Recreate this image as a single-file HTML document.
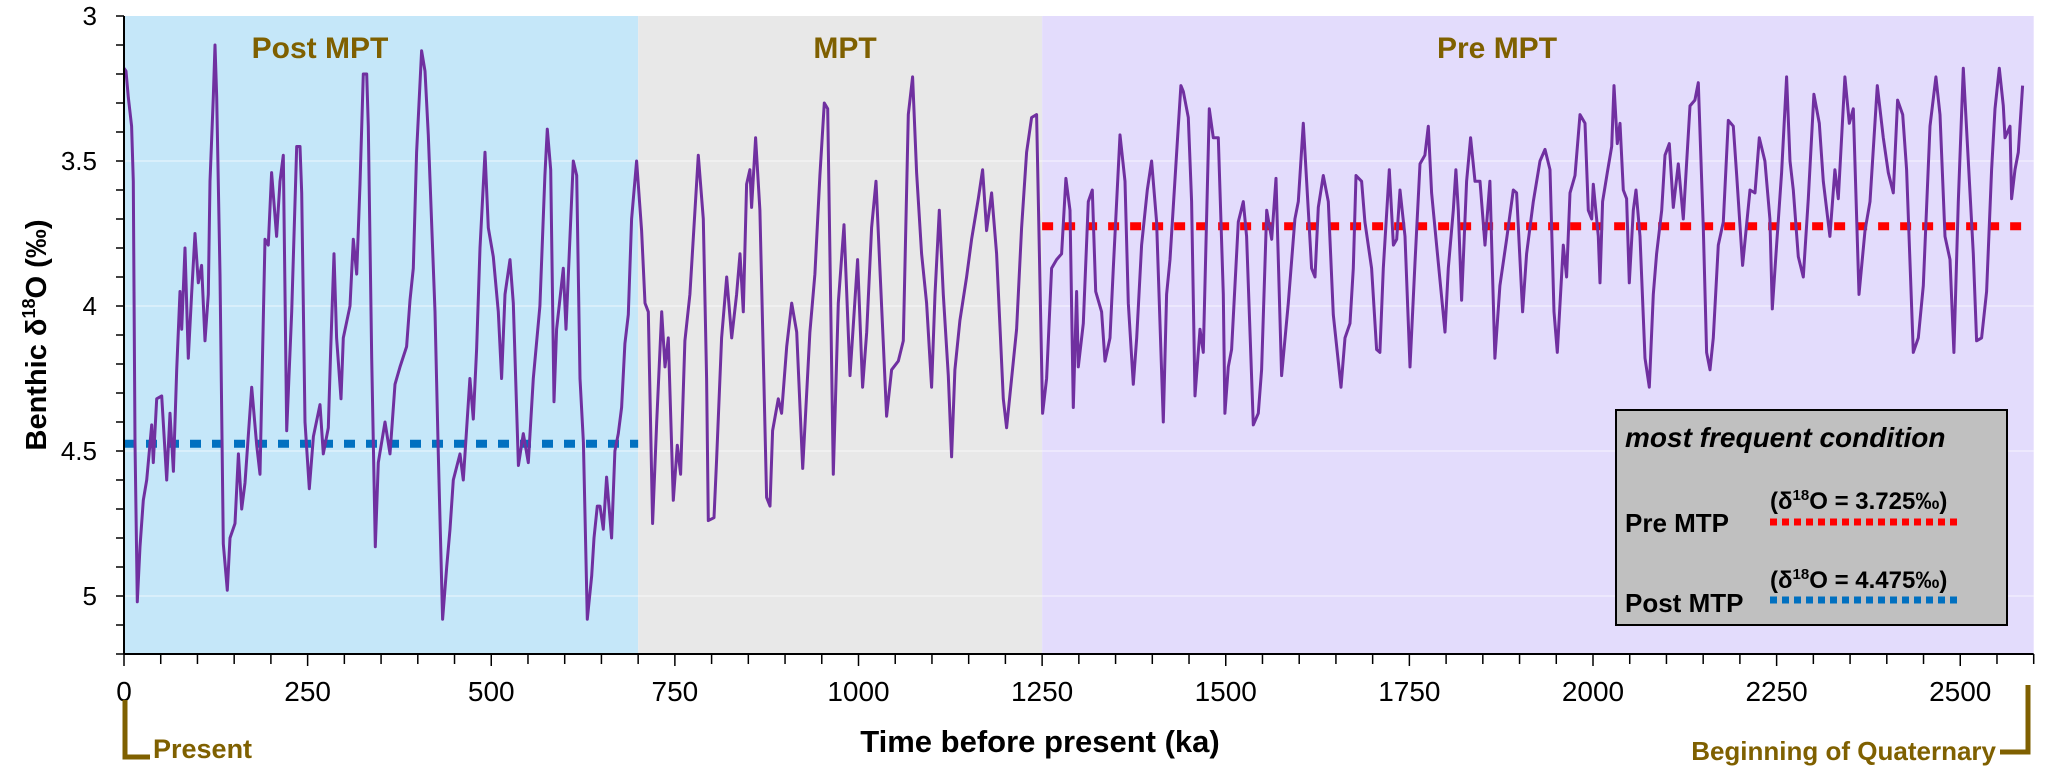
<!DOCTYPE html>
<html><head><meta charset="utf-8">
<style>
html,body{margin:0;padding:0;background:#fff;}
svg{display:block;}
text{font-family:"Liberation Sans",sans-serif;}
.nar{font-family:"Liberation Sans",sans-serif;}
</style></head>
<body>
<svg id="chart" width="2050" height="775" viewBox="0 0 2050 775" xmlns="http://www.w3.org/2000/svg">
  <g id="bg"></g>
  <g id="grid"></g>
  <g id="refs"></g>
  <path id="series" fill="none" stroke="#7030a0" stroke-width="3" stroke-linejoin="round"/>
  <g id="axes"></g>
  <g id="labels"></g>

  <text transform="translate(46,335) rotate(-90)" text-anchor="middle" font-size="29" font-weight="bold">Benthic δ<tspan font-size="18" dy="-11">18</tspan><tspan dy="11">O (‰)</tspan></text>
  <text class="nar" x="1040" y="752" text-anchor="middle" font-size="31" font-weight="bold">Time before present (ka)</text>

  <g>
    <path d="M125 700 L125 757 L150 757" fill="none" stroke="#7f6000" stroke-width="5"/>
    <text class="nar" x="153" y="758" font-size="27" font-weight="bold" fill="#7f6000">Present</text>
  </g>
  <g>
    <path d="M2028 685 L2028 752 L2000 752" fill="none" stroke="#7f6000" stroke-width="5"/>
    <text class="nar" x="1996" y="760" text-anchor="end" font-size="26" font-weight="bold" fill="#7f6000">Beginning of Quaternary</text>
  </g>

  <g>
    <rect x="1616" y="410" width="391" height="215" fill="#c0c0c0" stroke="#000" stroke-width="2"/>
    <text x="1625" y="447" font-size="28" font-weight="bold" font-style="italic">most frequent condition</text>
    <text class="nar" x="1625" y="532" font-size="26" font-weight="bold">Pre MTP</text>
    <text class="nar" x="1770" y="509" font-size="24" font-weight="bold">(δ<tspan font-size="15" dy="-9">18</tspan><tspan dy="9">O = 3.725‰)</tspan></text>
    <line x1="1770" y1="522" x2="1962" y2="522" stroke="#ff0000" stroke-width="7" stroke-dasharray="7 5"/>
    <text class="nar" x="1625" y="612" font-size="26" font-weight="bold">Post MTP</text>
    <text class="nar" x="1770" y="588" font-size="24" font-weight="bold">(δ<tspan font-size="15" dy="-9">18</tspan><tspan dy="9">O = 4.475‰)</tspan></text>
    <line x1="1770" y1="600" x2="1962" y2="600" stroke="#0070c0" stroke-width="7" stroke-dasharray="7 5"/>
  </g>
</svg>
<script>
const times = [0,2.7,5.9,10.4,12.7,15.0,18.1,21.8,26.3,30.9,37.7,39.9,44.5,51.3,58.1,62.6,67.2,71.7,76.2,78.5,83.0,87.6,92.1,96.7,101.2,105.7,110.3,114.8,117.1,121.6,123.9,126.2,130.7,135.2,140.7,144.3,151.1,155.7,160.2,164.7,173.8,180.6,185.1,191.9,196.5,201.0,207.8,212.4,216.9,221.5,228.3,235.1,239.6,241.9,246.4,252.3,257.8,266.8,271.4,278.2,281.4,285.9,289.5,295.4,298.6,307.7,312.2,316.8,321.3,325.8,330.4,332.6,337.2,342.2,346.2,355.3,362.1,368.9,375.7,384.8,389.4,393.9,398.4,405.2,409.8,414.3,423.4,427.9,433.8,439.3,443.8,448.4,457.4,462.0,471.0,475.6,480.1,484.7,491.5,496.0,502.8,509.6,514.1,518.7,525.5,530.0,536.9,543.6,550.5,557.3,566.3,573.1,576.3,580.9,585.4,589.0,598.1,601.8,607.2,611.7,616.3,620.8,625.4,630.8,636.7,639.9,644.4,648.0,
652.6,657.1,663.9,668.4,673.0,677.5,682.0,686.6,691.1,697.9,704.7,709.3,713.8,719.7,725.2,732.0,736.5,741.0,747.9,753.3,757.8,763.7,770.5,781.9,788.7,793.2,795.5,803.2,806.8,813.6,820.5,827.3,834.1,838.6,843.1,847.7,852.2,854.5,859.9,865.8,874.9,879.5,883.1,890.8,895.3,902.2,909.0,915.8,924.0,933.9,940.7,947.5,953.4,958.0,965.7,972.5,980.2,988.4,998.8,1005.6,1011.1,1017.9,1023.8,1029.2,1038.3,1045.1,1054.2,1061.0,1067.8,1073.7,1079.1,1085.9,1092.7,1099.5,1104.1,1110.0,1115.4,1122.2,1126.8,1131.3,1138.1,1147.2,1154.0,1163.1,1169.0,1174.4,1181.2,1188.0,1197.1,1201.7,1208.4,1215.3,1222.1,1228.9,1235.7,1242.5,1250.7,1256.1,1262.9,1269.7,1276.5,1282.4,1287.9,
1292.5,1297.0,1299.3,1306.1,1312.9,1318.3,1322.9,1331.0,1335.6,1342.4,1346.9,1356.0,1362.8,1367.3,1374.1,1378.7,1385.5,1393.2,1399.1,1405.9,1415.0,1419.5,1424.1,1435.4,1439.0,1442.2,1449.0,1453.5,1458.1,1464.9,1469.4,1477.6,1483.0,1489.9,1496.7,1498.9,1503.5,1508.0,1517.1,1523.9,1528.4,1537.5,1544.3,1548.8,1555.7,1562.5,1568.4,1576.1,1585.2,1594.2,1598.8,1605.6,1612.4,1616.9,1621.5,1626.0,1632.8,1639.6,1646.4,1656.9,1662.3,1669.1,1673.6,1677.3,1685.0,1689.5,1698.6,1705.4,1709.9,1714.5,1722.7,1728.2,1732.7,1737.2,1744.0,1750.8,1757.6,1764.4,1771.2,1775.8,1780.3,1787.1,1798.5,1803.0,1809.8,1813.4,1816.6,1821.1,1827.9,1833.4,1839.3,1846.1,1852.9,1859.7,1866.5,1873.3,1882.4,1891.5,1896.0,1904.2,1909.6,1918.7,1927.8,
1934.6,1941.4,1946.9,1951.4,1959.6,1964.1,1968.7,1975.5,1982.3,1989.1,1993.6,1998.2,2000.4,2007.2,2009.5,2013.1,2019.5,2025.4,2028.6,2033.1,2036.7,2041.3,2045.8,2049.4,2054.9,2058.5,2064.0,2070.8,2076.7,2082.1,2086.6,2093.5,2098.0,2103.9,2109.3,2116.1,2123.0,2132.0,2138.8,2143.4,2150.2,2154.7,2159.3,2163.8,2170.6,2177.4,2184.2,2191.0,2195.6,2203.7,2213.7,2220.5,2226.4,2234.1,2240.9,2244.1,2250.0,2256.8,2263.6,2268.2,2272.7,2279.5,2286.3,2293.1,2300.8,2308.1,2313.5,2322.6,2329.4,2334.0,2343.0,2348.9,2354.4,2362.1,2370.3,2377.1,2387.1,2395.2,2402.0,2408.8,2414.7,2421.6,2427.0,2436.1,2442.9,2449.7,2458.8,2466.9,2472.4,2479.2,2486.0,2491.4,2497.3,2504.1,2510.9,2517.8,2522.3,2529.1,2535.9,2542.7,2547.3,2553.2,2558.6,2560.9,2567.7,2569.9,2574.5,2579.0,2584.9];
const d18o = [3.18,3.19,3.28,3.38,3.57,4.47,5.02,4.83,4.67,4.60,4.41,4.54,4.32,4.31,4.60,4.37,4.57,4.22,3.95,4.08,3.80,4.18,3.96,3.75,3.92,3.86,4.12,3.96,3.57,3.28,3.10,3.28,3.89,4.82,4.98,4.80,4.75,4.51,4.70,4.61,4.28,4.48,4.58,3.77,3.79,3.54,3.76,3.57,3.48,4.43,4.02,3.45,3.45,3.61,4.40,4.63,4.45,4.34,4.51,4.42,4.15,3.82,4.11,4.32,4.11,4.00,3.77,3.89,3.58,3.20,3.20,3.38,4.18,4.83,4.54,4.40,4.51,4.27,4.21,4.14,3.98,3.87,3.47,3.12,3.19,3.41,4.02,4.51,5.08,4.90,4.77,4.60,4.51,4.60,4.25,4.39,4.15,3.80,3.47,3.73,3.83,4.02,4.25,3.96,3.84,3.99,4.55,4.44,4.54,4.25,4.00,3.55,3.39,3.53,4.33,4.08,3.87,4.08,3.76,3.50,3.55,4.25,4.47,5.08,4.93,4.80,4.69,4.69,
4.77,4.59,4.80,4.50,4.44,4.35,4.13,4.03,3.70,3.50,3.74,3.99,4.02,4.75,4.40,4.02,4.21,4.11,4.67,4.48,4.58,4.12,3.96,3.48,3.70,4.25,4.74,4.73,4.53,4.11,3.90,4.11,3.96,3.82,4.02,3.58,3.53,3.66,3.42,3.67,4.66,4.69,4.43,4.32,4.37,4.14,3.99,4.09,4.56,4.09,3.89,3.55,3.30,3.32,4.58,3.99,3.72,4.24,3.84,4.28,4.09,3.73,3.57,3.87,4.38,4.22,4.19,4.12,3.34,3.21,3.54,3.82,3.99,4.28,3.96,3.67,3.96,4.24,4.52,4.22,4.05,3.90,3.77,3.63,3.53,3.74,3.61,3.82,4.32,4.42,4.25,4.08,3.73,3.47,3.35,3.34,4.37,4.25,3.87,3.84,3.82,3.56,3.67,
4.35,3.95,4.21,4.06,3.64,3.60,3.95,4.02,4.19,4.11,3.87,3.41,3.57,3.99,4.27,4.11,3.79,3.60,3.50,3.71,4.40,3.96,3.84,3.38,3.24,3.26,3.35,3.64,4.31,4.08,4.16,3.32,3.42,3.42,3.96,4.37,4.21,4.15,3.71,3.64,3.76,4.41,4.37,4.22,3.67,3.77,3.56,4.24,3.99,3.70,3.64,3.37,3.67,3.87,3.90,3.66,3.55,3.64,4.03,4.28,4.11,4.06,3.87,3.55,3.57,3.71,3.87,4.15,4.16,3.87,3.53,3.79,3.77,3.60,3.76,4.21,3.85,3.51,3.48,3.38,3.61,3.79,4.09,3.87,3.67,3.53,3.67,3.98,3.57,3.42,3.57,3.57,3.79,3.57,4.18,3.93,3.77,3.60,3.61,4.02,3.82,3.64,3.50,
3.46,3.53,4.02,4.16,3.79,3.90,3.61,3.55,3.34,3.37,3.67,3.70,3.58,3.76,3.92,3.64,3.54,3.45,3.24,3.44,3.37,3.60,3.63,3.92,3.67,3.60,3.76,4.18,4.28,3.96,3.82,3.67,3.48,3.44,3.66,3.51,3.70,3.31,3.29,3.23,3.73,4.16,4.22,4.11,3.79,3.71,3.36,3.38,3.55,3.86,3.60,3.61,3.42,3.50,3.70,4.01,3.79,3.54,3.21,3.50,3.60,3.83,3.90,3.63,3.27,3.37,3.57,3.76,3.53,3.63,3.21,3.37,3.32,3.96,3.74,3.64,3.24,3.42,3.54,3.61,3.29,3.34,3.53,4.16,4.11,3.93,3.38,3.21,3.34,3.76,3.84,4.16,3.64,3.18,3.50,3.82,4.12,4.11,3.95,3.53,3.32,3.18,3.31,3.42,3.38,3.63,3.53,3.47,3.24];
const xTicks = [0,250,500,750,1000,1250,1500,1750,2000,2250,2500];
const yTicks = [3,3.5,4,4.5,5];
const periodStarts = [0,700,1250];
const periodEnds = [700,1250,2600];
const periodNames = ["Post MPT","MPT","Pre MPT"];
const refValues = [4.475,3.725];
const refStarts = [0,1250];
const refEnds = [700,2595];

const NS="http://www.w3.org/2000/svg";
const X0=124, XS=0.7345, Y0=16, YS=290;
function xs(t){return X0+t*XS;}
function ys(v){return Y0+(v-3)*YS;}
function mk(tag,attrs,parent){const e=document.createElementNS(NS,tag);for(const k in attrs)e.setAttribute(k,attrs[k]);parent.appendChild(e);return e;}

const bg=document.getElementById('bg');
const fills=['#c5e7f9','#e8e8e8','#e3dcfc'];
periodStarts.forEach((s,i)=>{
  const r=mk('rect',{x:xs(s),y:Y0,width:xs(periodEnds[i])-xs(s),height:654-Y0,fill:fills[i]},bg);
  
  
});
const grid=document.getElementById('grid');
yTicks.slice(1).forEach(v=>{
  const l=mk('line',{x1:X0,x2:xs(2600),y1:ys(v),y2:ys(v),stroke:'#ffffff',"stroke-opacity":0.35,"stroke-width":2},grid);
  
  
});
const refs=document.getElementById('refs');
const refColors=['#0070c0','#ff0000'];
refValues.forEach((v,i)=>{
  const l=mk('line',{x1:xs(refStarts[i]),x2:xs(refEnds[i]),y1:ys(v),y2:ys(v),stroke:refColors[i],"stroke-width":8,"stroke-dasharray":"11 11"},refs);
  
  
});
let d='';
times.forEach((t,i)=>{d+=(i?'L':'M')+xs(t).toFixed(1)+' '+ys(d18o[i]).toFixed(1);});
document.getElementById('series').setAttribute('d',d);

const ax=document.getElementById('axes');
const yl=mk('line',{x1:X0,x2:X0,y1:Y0,y2:654,stroke:'#000',"stroke-width":2},ax);


const xl=mk('line',{x1:X0,x2:xs(2600),y1:654,y2:654,stroke:'#000',"stroke-width":2},ax);


for(let k=0;k<=22;k++){const v=3+k*0.1;mk('line',{x1:X0-8,x2:X0,y1:ys(v),y2:ys(v),stroke:'#000',"stroke-width":1.5},ax);}
for(let t=0;t<=2600;t+=50){mk('line',{x1:xs(t),x2:xs(t),y1:654,y2:t%250===0?666:664,stroke:'#000',"stroke-width":1.5},ax);}
yTicks.forEach(v=>{
  const tx=mk('text',{x:97,y:ys(v)+9,"text-anchor":"end","font-size":26},ax);
  tx.textContent=v;
  
  
});
xTicks.forEach(t=>{
  const tx=mk('text',{x:xs(t),y:701,"text-anchor":"middle","font-size":28,class:"nar"},ax);
  tx.textContent=t;
  
  
});
const lab=document.getElementById('labels');
const labX=[320,845,1497];
periodNames.forEach((n,i)=>{
  const tx=mk('text',{x:labX[i],y:58,"text-anchor":"middle","font-size":30,"font-weight":"bold",fill:'#7f6000'},lab);
  tx.textContent=n;
  
  
});
</script>
</body></html>
